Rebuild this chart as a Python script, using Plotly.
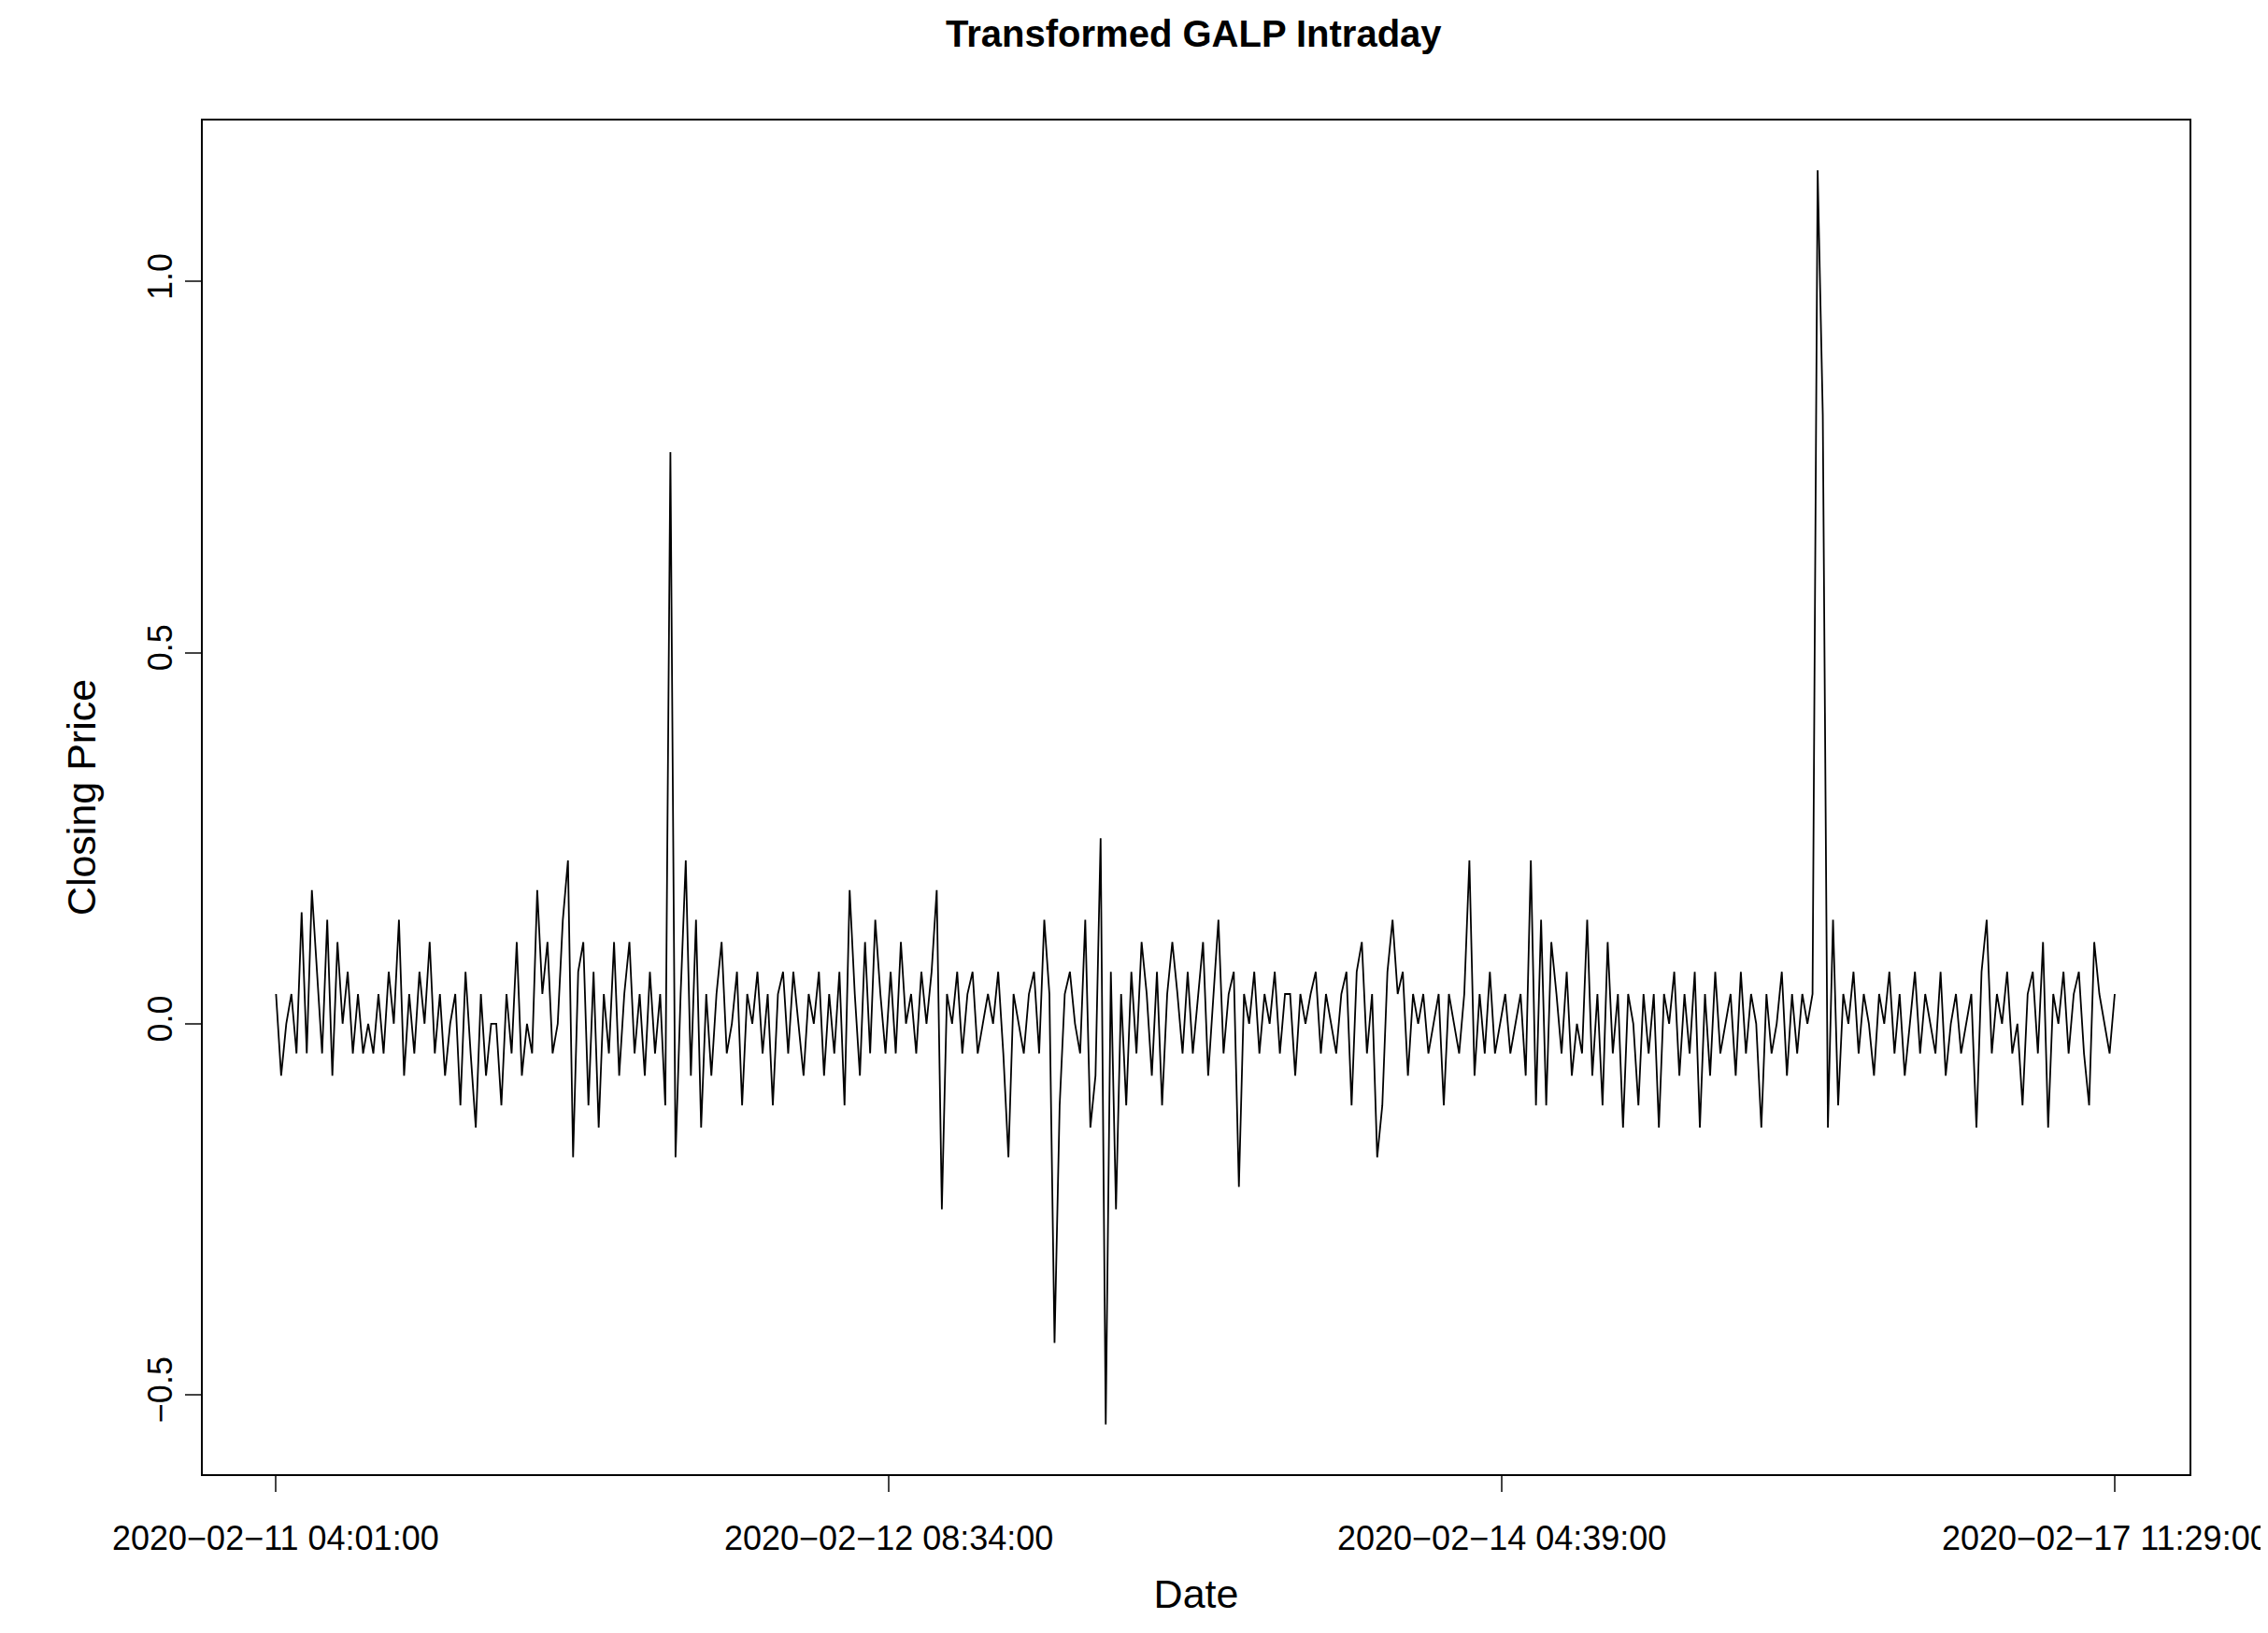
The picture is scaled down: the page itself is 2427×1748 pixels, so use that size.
import plotly.graph_objects as go

closing = [
    0.04, -0.07, 0.0, 0.04, -0.04, 0.15, -0.04, 0.18, 0.07, -0.04, 0.14, -0.07, 0.11, 0.0, 0.07, -0.04, 0.04, -0.04, 0.0, -0.04,
    0.04, -0.04, 0.07, 0.0, 0.14, -0.07, 0.04, -0.04, 0.07, 0.0, 0.11, -0.04, 0.04, -0.07, 0.0, 0.04, -0.11, 0.07, -0.04, -0.14,
    0.04, -0.07, 0.0, 0.0, -0.11, 0.04, -0.04, 0.11, -0.07, 0.0, -0.04, 0.18, 0.04, 0.11, -0.04, 0.0, 0.14, 0.22, -0.18, 0.07,
    0.11, -0.11, 0.07, -0.14, 0.04, -0.04, 0.11, -0.07, 0.04, 0.11, -0.04, 0.04, -0.07, 0.07, -0.04, 0.04, -0.11, 0.77, -0.18, 0.04,
    0.22, -0.07, 0.14, -0.14, 0.04, -0.07, 0.04, 0.11, -0.04, 0.0, 0.07, -0.11, 0.04, 0.0, 0.07, -0.04, 0.04, -0.11, 0.04, 0.07,
    -0.04, 0.07, 0.0, -0.07, 0.04, 0.0, 0.07, -0.07, 0.04, -0.04, 0.07, -0.11, 0.18, 0.04, -0.07, 0.11, -0.04, 0.14, 0.04, -0.04,
    0.07, -0.04, 0.11, 0.0, 0.04, -0.04, 0.07, 0.0, 0.07, 0.18, -0.25, 0.04, 0.0, 0.07, -0.04, 0.04, 0.07, -0.04, 0.0, 0.04,
    0.0, 0.07, -0.04, -0.18, 0.04, 0.0, -0.04, 0.04, 0.07, -0.04, 0.14, 0.04, -0.43, -0.11, 0.04, 0.07, 0.0, -0.04, 0.14, -0.14,
    -0.07, 0.25, -0.54, 0.07, -0.25, 0.04, -0.11, 0.07, -0.04, 0.11, 0.04, -0.07, 0.07, -0.11, 0.04, 0.11, 0.04, -0.04, 0.07, -0.04,
    0.04, 0.11, -0.07, 0.04, 0.14, -0.04, 0.04, 0.07, -0.22, 0.04, 0.0, 0.07, -0.04, 0.04, 0.0, 0.07, -0.04, 0.04, 0.04, -0.07,
    0.04, 0.0, 0.04, 0.07, -0.04, 0.04, 0.0, -0.04, 0.04, 0.07, -0.11, 0.07, 0.11, -0.04, 0.04, -0.18, -0.11, 0.07, 0.14, 0.04,
    0.07, -0.07, 0.04, 0.0, 0.04, -0.04, 0.0, 0.04, -0.11, 0.04, 0.0, -0.04, 0.04, 0.22, -0.07, 0.04, -0.04, 0.07, -0.04, 0.0,
    0.04, -0.04, 0.0, 0.04, -0.07, 0.22, -0.11, 0.14, -0.11, 0.11, 0.04, -0.04, 0.07, -0.07, 0.0, -0.04, 0.14, -0.07, 0.04, -0.11,
    0.11, -0.04, 0.04, -0.14, 0.04, 0.0, -0.11, 0.04, -0.04, 0.04, -0.14, 0.04, 0.0, 0.07, -0.07, 0.04, -0.04, 0.07, -0.14, 0.04,
    -0.07, 0.07, -0.04, 0.0, 0.04, -0.07, 0.07, -0.04, 0.04, 0.0, -0.14, 0.04, -0.04, 0.0, 0.07, -0.07, 0.04, -0.04, 0.04, 0.0,
    0.04, 1.15, 0.82, -0.14, 0.14, -0.11, 0.04, 0.0, 0.07, -0.04, 0.04, 0.0, -0.07, 0.04, 0.0, 0.07, -0.04, 0.04, -0.07, 0.0,
    0.07, -0.04, 0.04, 0.0, -0.04, 0.07, -0.07, 0.0, 0.04, -0.04, 0.0, 0.04, -0.14, 0.07, 0.14, -0.04, 0.04, 0.0, 0.07, -0.04,
    0.0, -0.11, 0.04, 0.07, -0.04, 0.11, -0.14, 0.04, 0.0, 0.07, -0.04, 0.04, 0.07, -0.04, -0.11, 0.11, 0.04, 0.0, -0.04, 0.04,
]
idx = list(range(len(closing)))
tick_pos = [0, 119.67, 239.33, 359]
tick_text = ["2020\u221202\u221211 04:01:00", "2020\u221202\u221212 08:34:00",
             "2020\u221202\u221214 04:39:00", "2020\u221202\u221217 11:29:00"]

fig = go.Figure()
fig.add_trace(go.Scatter(x=idx, y=closing, mode='lines', line=dict(color='black', width=1.8)))

font = dict(family='Liberation Sans, Arial', color='black', size=36)
fig.update_layout(width=2427, height=1748, plot_bgcolor='white', paper_bgcolor='white',
                  showlegend=False, font=font,
                  margin=dict(l=209, r=92, t=121, b=178),
                  title=dict(text='<b>Transformed GALP Intraday</b>', x=0.523, xanchor='center',
                             y=0.992, yanchor='top', font=dict(size=40)))
# tick labels as annotations; the last one nudged left so it stays inside the page
for i, (p, t) in enumerate(zip(tick_pos, tick_text)):
    fig.add_annotation(x=p, y=0, xref='x', yref='paper', text=t, showarrow=False,
                       yanchor='middle', yshift=-68, xshift=-10 if i == 3 else 0, font=font)
fig.update_xaxes(range=[-14.3, 373.6], tickvals=tick_pos, showticklabels=False, ticks='outside',
                 ticklen=17, tickwidth=2, showgrid=False, zeroline=False, showline=True,
                 linecolor='black', linewidth=2, mirror=True,
                 title=dict(text='Date', standoff=95))
fig.update_yaxes(range=[-0.607, 1.217], tickvals=[-0.5, 0.0, 0.5, 1.0],
                 ticktext=['\u22120.5', '0.0', '0.5', '1.0'], tickangle=-90, ticks='outside',
                 ticklen=17, tickwidth=2, showgrid=False, zeroline=False, showline=True,
                 linecolor='black', linewidth=2, mirror=True,
                 title=dict(text='Closing Price', standoff=35))
fig.write_html("out.html")
